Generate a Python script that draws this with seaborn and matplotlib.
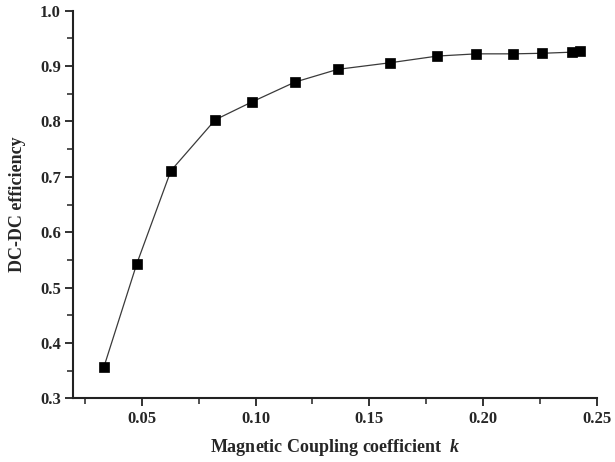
import matplotlib
matplotlib.use("Agg")
import matplotlib.pyplot as plt
from matplotlib.ticker import MultipleLocator
import seaborn as sns
import pandas as pd

# Coupling coefficient sweep and measured DC-DC efficiency
coupling_k = [0.0333, 0.0478, 0.0628, 0.0823, 0.0983, 0.1173, 0.1361,
              0.1593, 0.1799, 0.1971, 0.2132, 0.2259, 0.2389, 0.2427]
efficiency = [0.356, 0.543, 0.711, 0.803, 0.835, 0.871, 0.894,
              0.906, 0.918, 0.922, 0.922, 0.923, 0.925, 0.927]

x_ticks = [0.05, 0.10, 0.15, 0.20, 0.25]
y_ticks = [0.3, 0.4, 0.5, 0.6, 0.7, 0.8, 0.9, 1.0]

sns.set_style("ticks")
plt.rcParams["font.family"] = ["Liberation Serif", "DejaVu Serif"]
plt.rcParams["font.weight"] = "bold"
plt.rcParams["axes.labelweight"] = "bold"
plt.rcParams["mathtext.fontset"] = "custom"
plt.rcParams["mathtext.it"] = "Liberation Serif:bold:italic"
plt.rcParams["mathtext.rm"] = "Liberation Serif:bold"

df = pd.DataFrame({"k": coupling_k, "eff": efficiency})

fig = plt.figure(figsize=(6.15, 4.62), dpi=100)
ax = fig.add_axes([0.1195, 0.1375, 0.851, 0.8395])

sns.lineplot(data=df, x="k", y="eff", ax=ax, sort=False, estimator=None,
             color="#3a3a3a", linewidth=0.9, marker="s", markersize=7,
             markerfacecolor="black", markeredgecolor="black",
             markeredgewidth=0.5)

ax.set_xlim(0.02, 0.25)
ax.set_ylim(0.3, 1.0)
ax.set_xticks(x_ticks)
ax.set_xticklabels([f"{v:.2f}" for v in x_ticks])
ax.set_yticks(y_ticks)
ax.set_yticklabels([f"{v:.1f}" for v in y_ticks])
ax.xaxis.set_minor_locator(MultipleLocator(0.025))
ax.yaxis.set_minor_locator(MultipleLocator(0.05))

for side in ("top", "right"):
    ax.spines[side].set_visible(False)
for side in ("left", "bottom"):
    ax.spines[side].set_linewidth(1.5)
    ax.spines[side].set_color("#222222")

ax.tick_params(axis="both", which="major", direction="out", length=6,
               width=1.3, labelsize=12, color="#222222", pad=3)
ax.tick_params(axis="both", which="minor", direction="out", length=4,
               width=1.1, color="#222222")
for lab in ax.get_xticklabels() + ax.get_yticklabels():
    lab.set_fontweight("bold")

ax.set_xlabel(r"Magnetic Coupling coefficient  $k$", fontsize=13,
              fontweight="bold", labelpad=7)
ax.set_ylabel("DC-DC efficiency", fontsize=13, fontweight="bold", labelpad=10)

fig.savefig("out.png", dpi=100)
